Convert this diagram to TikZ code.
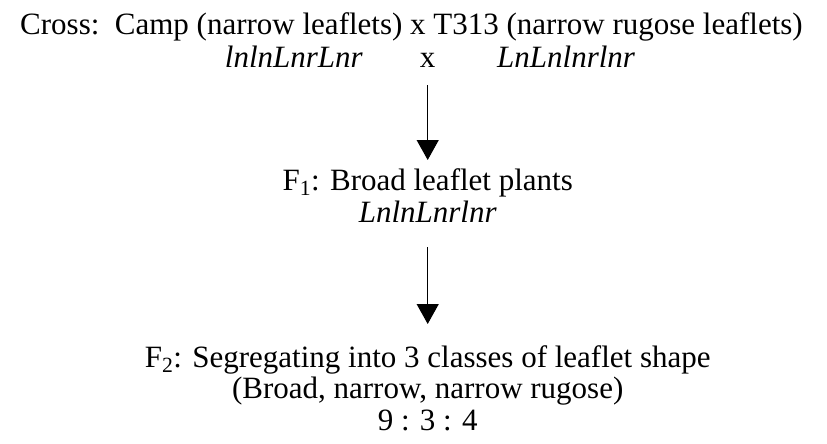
\documentclass[tikz,border=0pt]{standalone}
\usepackage{fontspec}
\setmainfont{Liberation Serif}
\usetikzlibrary{arrows.meta}
\tikzset{
  txt/.style={font=\fontsize{31}{32}\selectfont, inner sep=0pt, anchor=base},
  flow/.style={line width=1.1pt, -{Triangle[width=22pt,length=20pt]}, shorten <=0pt},
}
\begin{document}
\begin{tikzpicture}[x=1pt,y=-1pt]
\useasboundingbox (0,0) rectangle (827,444);
% line 1
\node[txt, anchor=base west] (cross) at (20,35) {Cross:\ \ Camp (narrow leaflets) x T313 (narrow rugose leaflets)};
% line 2
\node[txt, anchor=base east] (p1) at (363,67) {\itshape lnlnLnrLnr};
\node[txt] (x) at (427.7,67) {x};
\node[txt, anchor=base west] (p2) at (497,67) {\itshape LnLnlnrlnr};
\coordinate (a1s) at (427.7,85);
% F1
\node[txt] (f1) at (427.7,190) {F\textsubscript{1}: Broad leaflet plants};
\node[txt] (f1g) at (427.7,222) {\itshape LnlnLnrlnr};
\draw[flow] (a1s) -- (427.7,160) coordinate (a1e);
% F2
\coordinate (a2s) at (427.7,247);
\draw[flow] (a2s) -- (427.7,324) coordinate (a2e);
\node[txt] (f2) at (427.7,367) {F\textsubscript{2}: Segregating into 3 classes of leaflet shape};
\node[txt] (f2b) at (427.7,398) {(Broad, narrow, narrow rugose)};
\node[txt] (f2c) at (427.7,430) {9 : 3 : 4};
\end{tikzpicture}
\end{document}
